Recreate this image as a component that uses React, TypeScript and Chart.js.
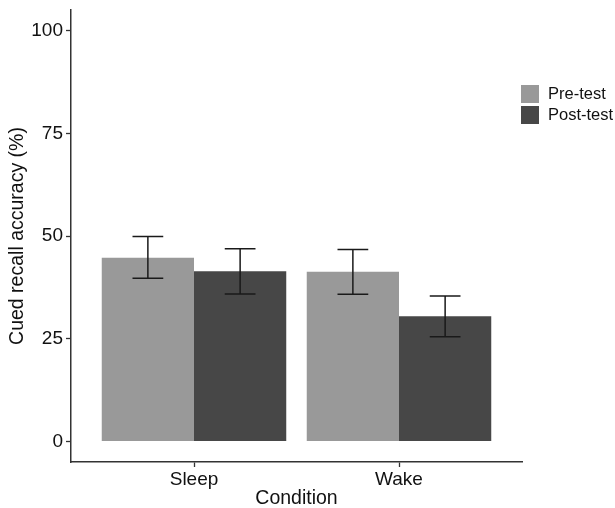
import React, { useEffect, useRef } from "react";
import { Chart, registerables } from "chart.js";

Chart.register(...registerables);

const categories = ["Sleep", "Wake"];
const seriesLabels = ["Pre-test", "Post-test"];
const preTest = [44.7, 41.3];
const postTest = [41.4, 30.5];
const preLow = [39.7, 35.8];
const preHigh = [49.9, 46.7];
const postLow = [35.9, 25.5];
const postHigh = [46.9, 35.4];
const yTicks = [0, 25, 50, 75, 100];

const FONT = "'Liberation Sans', Arial, Helvetica, sans-serif";
const colors = ["#999999", "#474747"];

const errorBarPlugin = {
  id: "errorBars",
  afterDatasetsDraw(chart: any) {
    const { ctx } = chart;
    const xs = chart.scales.x;
    const ys = chart.scales.y;
    const lows = [preLow, postLow];
    const highs = [preHigh, postHigh];
    const half = Math.abs(xs.getPixelForValue(1.075) - xs.getPixelForValue(1));
    ctx.save();
    ctx.strokeStyle = "#1a1a1a";
    ctx.lineWidth = 1.5;
    chart.data.datasets.forEach((_: any, di: number) => {
      const meta = chart.getDatasetMeta(di);
      meta.data.forEach((el: any, j: number) => {
        const x = el.x;
        const yl = ys.getPixelForValue(lows[di][j]);
        const yh = ys.getPixelForValue(highs[di][j]);
        ctx.beginPath();
        ctx.moveTo(x, yl);
        ctx.lineTo(x, yh);
        ctx.moveTo(x - half, yl);
        ctx.lineTo(x + half, yl);
        ctx.moveTo(x - half, yh);
        ctx.lineTo(x + half, yh);
        ctx.stroke();
      });
    });
    ctx.restore();
  },
};

const legendPlugin = {
  id: "customLegend",
  afterDraw(chart: any) {
    const { ctx } = chart;
    ctx.save();
    const boxX = 521;
    const boxY0 = 85;
    const box = 18;
    const pitch = 21;
    chart.data.datasets.forEach((ds: any, i: number) => {
      const y = boxY0 + i * pitch;
      ctx.fillStyle = ds.backgroundColor;
      ctx.fillRect(boxX, y, box, box);
      ctx.fillStyle = "#111";
      ctx.font = `16.5px ${FONT}`;
      ctx.textBaseline = "middle";
      ctx.textAlign = "left";
      ctx.fillText(ds.label, 548, y + box / 2 + 0.5);
    });
    ctx.restore();
  },
};

export default function App() {
  const ref = useRef<HTMLCanvasElement | null>(null);
  useEffect(() => {
    if (!ref.current) return;
    const chart = new Chart(ref.current, {
      type: "bar",
      data: {
        datasets: [
          {
            label: seriesLabels[0],
            data: preTest.map((v, i) => ({ x: i + 1, y: v })),
            backgroundColor: colors[0],
            categoryPercentage: 0.9,
            barPercentage: 1.0,
          },
          {
            label: seriesLabels[1],
            data: postTest.map((v, i) => ({ x: i + 1, y: v })),
            backgroundColor: colors[1],
            categoryPercentage: 0.9,
            barPercentage: 1.0,
          },
        ],
      },
      options: {
        animation: false,
        responsive: true,
        maintainAspectRatio: false,
        layout: { padding: { left: 0, top: 10, right: 93, bottom: 0 } },
        plugins: { legend: { display: false }, tooltip: { enabled: false } },
        scales: {
          x: {
            type: "linear",
            min: 0.4,
            max: 2.6,
            offset: false,
            afterBuildTicks: (scale: any) => {
              scale.ticks = categories.map((_, i) => ({ value: i + 1 }));
            },
            afterFit: (scale: any) => {
              scale.height = 46;
              scale.paddingLeft = 0;
              scale.paddingRight = 0;
            },
            grid: {
              display: true,
              offset: false,
              drawOnChartArea: false,
              drawTicks: true,
              tickLength: 5,
              tickColor: "#333",
              tickWidth: 1.3,
            },
            border: { display: true, color: "#333", width: 1.5 },
            ticks: {
              padding: 1,
              color: "#111",
              font: { family: FONT, size: 19 },
              callback: (v: any) => categories[Math.round(v) - 1] ?? "",
              maxRotation: 0,
              autoSkip: false,
            },
            title: {
              display: true,
              text: "Condition",
              color: "#111",
              font: { family: FONT, size: 19.5, lineHeight: 1 },
              padding: { top: 0, bottom: 0 },
            },
          },
          y: {
            type: "linear",
            min: -5,
            max: 105,
            afterBuildTicks: (scale: any) => {
              scale.ticks = yTicks.map((v) => ({ value: v }));
            },
            afterFit: (scale: any) => {
              scale.width = 71;
              scale.paddingTop = 0;
              scale.paddingBottom = 0;
            },
            grid: {
              display: true,
              offset: false,
              drawOnChartArea: false,
              drawTicks: true,
              tickLength: 5,
              tickColor: "#333",
              tickWidth: 1.3,
            },
            border: { display: true, color: "#333", width: 1.5 },
            ticks: {
              padding: 3,
              color: "#111",
              font: { family: FONT, size: 19 },
            },
            title: {
              display: true,
              text: "Cued recall accuracy (%)",
              color: "#111",
              font: { family: FONT, size: 19.5, lineHeight: 1 },
              padding: { top: 8, bottom: 0 },
            },
          },
        },
      } as any,
      plugins: [errorBarPlugin, legendPlugin],
    });
    return () => chart.destroy();
  }, []);
  return (
    <div style={{ position: "absolute", left: 0, top: 0, width: 615, height: 508 }}>
      <canvas ref={ref} />
    </div>
  );
}
